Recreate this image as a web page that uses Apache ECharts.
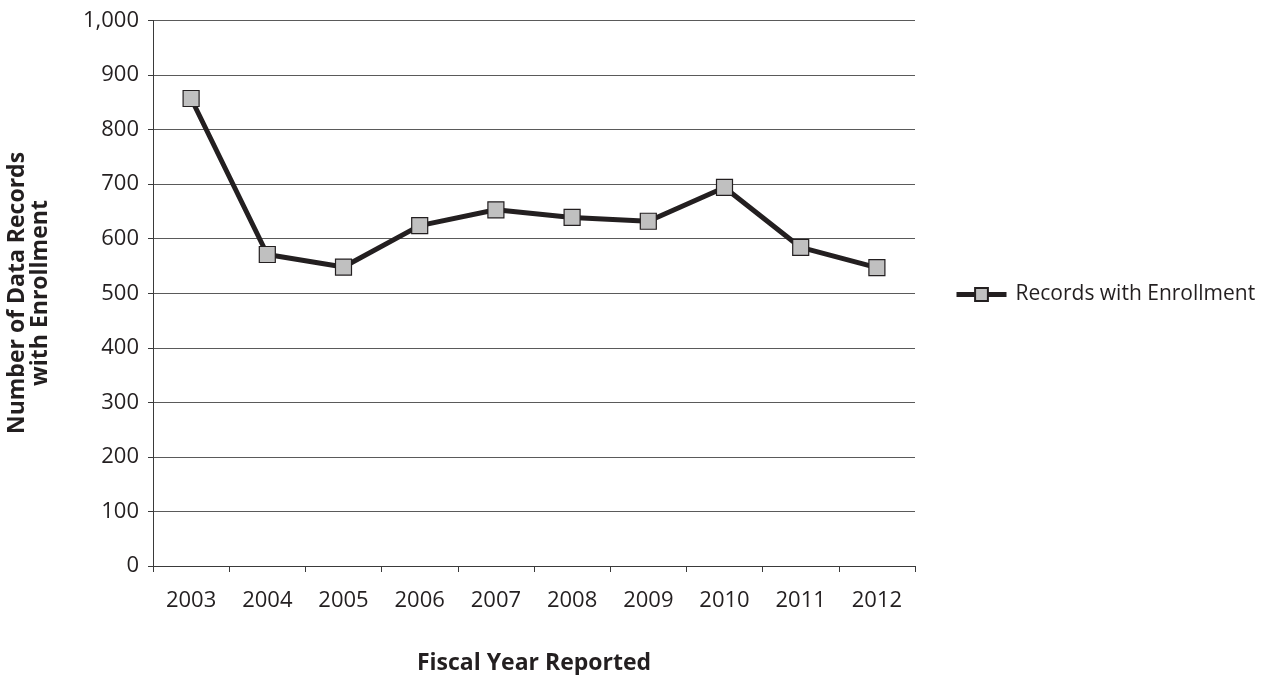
<!DOCTYPE html>
<html><head><meta charset="utf-8">
<script src="https://cdn.jsdelivr.net/npm/echarts@6/dist/echarts.min.js"></script>
<style>html,body{margin:0;padding:0;background:#fff;overflow:hidden}#c{width:1277px;height:675px}</style>
</head><body><div id="c"></div>
<script>
var categories = ['2003','2004','2005','2006','2007','2008','2009','2010','2011','2012'];
var records = [857, 571, 548, 624, 653, 639, 632, 694, 584, 547];
var seriesName = 'Records with Enrollment';
var yTitle = ['Number of Data Records', 'with Enrollment'];
var xTitle = 'Fiscal Year Reported';
var FONT = '"Open Sans", "Noto Sans", sans-serif';
var chart = echarts.init(document.getElementById('c'));
chart.setOption({
  animation: false,
  backgroundColor: '#fff',
  grid: {left: 153, right: 362, top: 20.5, bottom: 109, containLabel: false, outerBoundsMode: 'none'},
  legend: {
    data: [seriesName], left: 954, top: 284, orient: 'vertical', padding: 0,
    itemWidth: 50, itemHeight: 16, itemGap: 6,
    lineStyle: {width: 5, color: '#231f20'},
    textStyle: {fontFamily: FONT, fontSize: 21, color: '#231f20', padding: [0,0,0,4]}
  },
  xAxis: {
    type: 'category', data: categories, boundaryGap: true,
    axisLine: {lineStyle: {color: '#3a3a3a', width: 1}},
    axisTick: {show: true, length: 6, alignWithLabel: false, lineStyle: {color: '#3a3a3a'}},
    axisLabel: {fontFamily: FONT, fontSize: 22, color: '#231f20', margin: 24},
    name: xTitle, nameLocation: 'middle', nameGap: 86,
    nameTextStyle: {fontFamily: FONT, fontSize: 23, fontWeight: 'bold', color: '#231f20'}
  },
  yAxis: {
    type: 'value', min: 0, max: 1000, interval: 100,
    axisLine: {show: true, lineStyle: {color: '#3a3a3a', width: 1}},
    axisTick: {show: true, length: 5, lineStyle: {color: '#3a3a3a'}},
    axisLabel: {fontFamily: FONT, fontSize: 22, color: '#231f20', margin: 14,
      formatter: function (v) { return v.toLocaleString('en-US'); }},
    splitLine: {lineStyle: {color: '#5a5a5a', width: 1}}
  },
  graphic: [{
    type: 'text', x: 29, y: 293, rotation: Math.PI / 2,
    style: {text: yTitle.join('\n'), fontFamily: FONT, fontSize: 23, fontWeight: 'bold',
      fill: '#231f20', align: 'center', verticalAlign: 'middle', lineHeight: 23}
  }],
  series: [{
    name: seriesName, type: 'line', data: records,
    symbol: 'rect', symbolSize: 16,
    lineStyle: {color: '#231f20', width: 5},
    itemStyle: {color: '#c0c0c0', borderColor: '#231f20', borderWidth: 1.2}
  }]
});
</script></body></html>
